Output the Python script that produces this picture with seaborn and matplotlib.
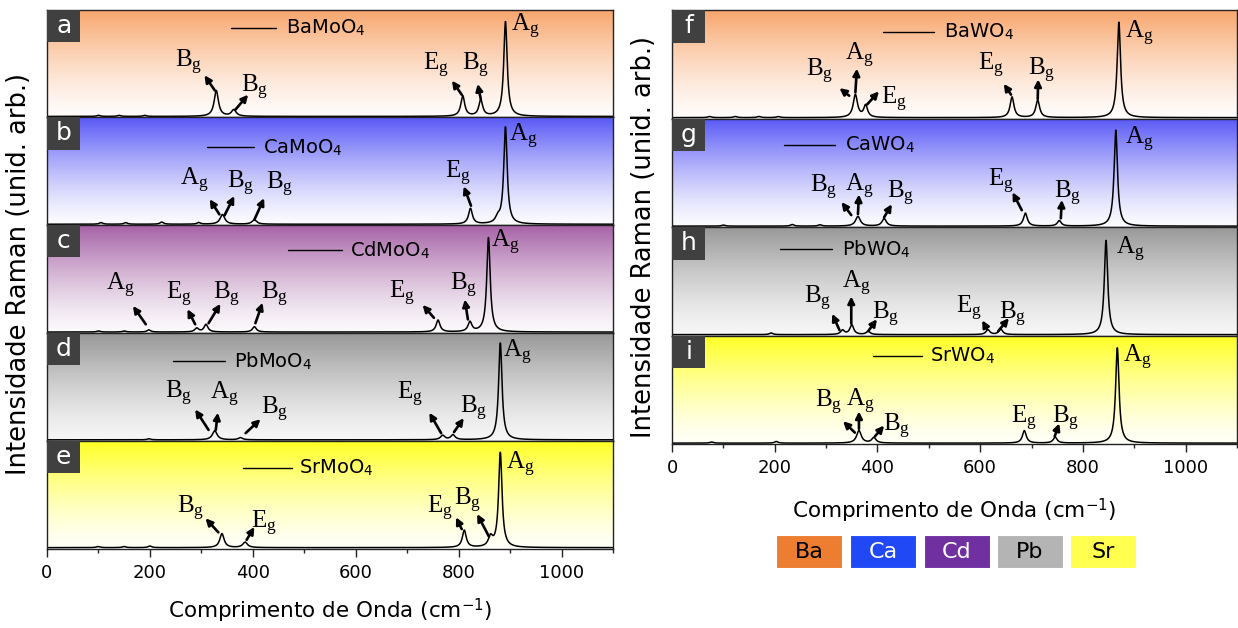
import numpy as np
import pandas as pd
import matplotlib
matplotlib.use("Agg")
import matplotlib.pyplot as plt
import seaborn as sns
from matplotlib.colors import LinearSegmentedColormap
from matplotlib.patches import Rectangle
from matplotlib.ticker import MultipleLocator

sns.set_theme(style="white")
plt.rcParams["font.family"] = ["DejaVu Sans"]
plt.rcParams["text.color"] = "black"
plt.rcParams["axes.labelcolor"] = "black"
plt.rcParams["xtick.color"] = "black"
plt.rcParams["mathtext.fontset"] = "custom"
plt.rcParams["mathtext.rm"] = "Liberation Serif"
plt.rcParams["mathtext.it"] = "Liberation Serif:italic"
plt.rcParams["mathtext.bf"] = "Liberation Serif:bold"
plt.rcParams["mathtext.sf"] = "DejaVu Sans"

# ---------------------------------------------------------------- data
# Raman bands: (centre in cm-1, normalised height, half width in cm-1)
BAMOO4_PEAKS = [(891, 0.88, 4), (843, 0.15, 4.5), (808, 0.19, 4.5), (363, 0.06, 5.5),
                (329, 0.24, 5), (190, 0.01, 4), (140, 0.01, 4), (100, 0.01, 4)]
CAMOO4_PEAKS = [(891, 0.90, 4), (876, 0.05, 5), (823, 0.145, 4.5), (403, 0.04, 5.5),
                (341, 0.09, 5.5), (295, 0.015, 4), (223, 0.02, 4), (153, 0.015, 4),
                (105, 0.015, 4)]
CDMOO4_PEAKS = [(858, 0.875, 4), (822, 0.09, 4.5), (760, 0.11, 4.5), (403, 0.05, 4.5),
                (309, 0.07, 4.5), (291, 0.035, 4.5), (198, 0.02, 4), (150, 0.01, 4),
                (100, 0.01, 4)]
PBMOO4_PEAKS = [(881, 0.90, 4), (789, 0.045, 5), (769, 0.04, 5), (376, 0.02, 5),
                (326, 0.085, 5.5), (198, 0.01, 4)]
SRMOO4_PEAKS = [(881, 0.88, 4), (862, 0.09, 5), (811, 0.16, 4.5), (385, 0.05, 5.5),
                (340, 0.13, 5), (200, 0.015, 4), (150, 0.01, 4), (99, 0.01, 4)]
BAWO4_PEAKS = [(870, 0.88, 4), (712, 0.16, 4.5), (662, 0.19, 4.5), (377, 0.11, 4.5),
               (357, 0.21, 5), (207, 0.01, 4), (169, 0.01, 4), (123, 0.01, 4),
               (73, 0.01, 4)]
CAWO4_PEAKS = [(864, 0.885, 4), (754, 0.05, 4.5), (688, 0.12, 4.5), (413, 0.07, 5),
               (362, 0.09, 5.5), (288, 0.012, 4), (234, 0.015, 4), (100, 0.01, 4)]
PBWO4_PEAKS = [(845, 0.87, 4), (640, 0.05, 4.5), (615, 0.045, 4.5), (382, 0.03, 4.5),
               (350, 0.09, 4.5), (332, 0.04, 4.5), (193, 0.015, 4)]
SRWO4_PEAKS = [(867, 0.88, 4), (746, 0.055, 4.5), (686, 0.115, 4.5), (393, 0.05, 5),
               (364, 0.115, 5.5), (203, 0.015, 4), (77, 0.01, 4)]

SAMPLES_MO = ["BaMoO$_\\mathsf{4}$", "CaMoO$_\\mathsf{4}$", "CdMoO$_\\mathsf{4}$",
              "PbMoO$_\\mathsf{4}$", "SrMoO$_\\mathsf{4}$"]
SAMPLES_W = ["BaWO$_\\mathsf{4}$", "CaWO$_\\mathsf{4}$", "PbWO$_\\mathsf{4}$",
             "SrWO$_\\mathsf{4}$"]
PANEL_LETTERS_MO = ["a", "b", "c", "d", "e"]
PANEL_LETTERS_W = ["f", "g", "h", "i"]
CATIONS = ["Ba", "Ca", "Cd", "Pb", "Sr"]
X_TICKS = [0, 200, 400, 600, 800, 1000]

# ---------------------------------------------------------------- styling
CATION_COLORS = {"Ba": "#ED7D31", "Ca": "#2148F5", "Cd": "#7030A0",
                 "Pb": "#B4B4B4", "Sr": "#FFFF4F"}
CATION_TEXT = {"Ba": "black", "Ca": "white", "Cd": "white", "Pb": "black", "Sr": "black"}
GRADIENT = {"Ba": ("#FFFCFA", "#F8A56B"), "Ca": ("#FBFBFF", "#5858F7"),
            "Cd": ("#FBF9FB", "#A662A6"), "Pb": ("#F6F6F6", "#979797"),
            "Sr": ("#FFFFF8", "#FFFF22")}

# mode labels: (symbol, text x, text y, arrow tail, arrow head)
LABELS_BAMOO4 = [("B", 275, 0.51, (326, 0.25), (306, 0.39)),
                 ("B", 403, 0.28, (366, 0.07), (391, 0.21)),
                 ("E", 756, 0.48, (806, 0.21), (787, 0.34)),
                 ("B", 833, 0.48, (843, 0.17), (837, 0.31)),
                 ("A", 930, 0.84, None, None)]
LABELS_CAMOO4 = [("A", 287, 0.41, (335, 0.10), (316, 0.24)),
                 ("B", 376, 0.39, (345, 0.09), (364, 0.27)),
                 ("B", 453, 0.38, (403, 0.05), (422, 0.25)),
                 ("E", 798, 0.48, (824, 0.18), (810, 0.36)),
                 ("A", 926, 0.82, None, None)]
LABELS_CDMOO4 = [("A", 143, 0.44, (192, 0.08), (167, 0.25)),
                 ("E", 256, 0.36, (288, 0.08), (273, 0.22)),
                 ("B", 349, 0.36, (314, 0.09), (337, 0.27)),
                 ("B", 442, 0.36, (405, 0.09), (419, 0.28)),
                 ("E", 690, 0.37, (752, 0.14), (730, 0.26)),
                 ("B", 810, 0.44, (818, 0.125), (812, 0.31)),
                 ("A", 891, 0.84, None, None)]
LABELS_PBMOO4 = [("B", 256, 0.44, (314, 0.10), (288, 0.29)),
                 ("A", 345, 0.43, (328, 0.10), (332, 0.26)),
                 ("B", 442, 0.29, (386, 0.07), (415, 0.20)),
                 ("E", 705, 0.43, (766, 0.07), (743, 0.26)),
                 ("B", 829, 0.30, (791, 0.08), (810, 0.21)),
                 ("A", 915, 0.82, None, None)]
LABELS_SRMOO4 = [("B", 279, 0.37, (333, 0.15), (308, 0.28)),
                 ("E", 422, 0.23, (388, 0.08), (403, 0.20)),
                 ("E", 764, 0.37, (806, 0.18), (795, 0.29)),
                 ("B", 818, 0.45, (859, 0.11), (836, 0.32)),
                 ("A", 919, 0.78, None, None)]
LABELS_BAWO4 = [("B", 288, 0.43, (345, 0.21), (326, 0.28)),
                ("A", 364, 0.58, (357, 0.24), (360, 0.46)),
                ("E", 433, 0.18, (380, 0.13), (403, 0.25)),
                ("E", 621, 0.49, (660, 0.22), (646, 0.32)),
                ("B", 719, 0.44, (712, 0.18), (713, 0.36)),
                ("A", 909, 0.78, None, None)]
LABELS_CAWO4 = [("B", 295, 0.36, (349, 0.11), (330, 0.23)),
                ("A", 364, 0.37, (362, 0.12), (364, 0.30)),
                ("B", 446, 0.31, (413, 0.09), (428, 0.21)),
                ("E", 640, 0.42, (681, 0.155), (663, 0.32)),
                ("B", 771, 0.31, (757, 0.08), (759, 0.25)),
                ("A", 909, 0.81, None, None)]
LABELS_PBWO4 = [("B", 283, 0.34, (326, 0.05), (312, 0.20)),
                ("A", 359, 0.48, (349, 0.11), (349, 0.36)),
                ("B", 415, 0.19, (382, 0.04), (399, 0.15)),
                ("E", 579, 0.25, (613, 0.06), (604, 0.14)),
                ("B", 663, 0.19, (635, 0.04), (656, 0.16)),
                ("A", 893, 0.79, None, None)]
LABELS_SRWO4 = [("B", 304, 0.38, (356, 0.105), (333, 0.21)),
                ("A", 366, 0.39, (364, 0.14), (364, 0.30)),
                ("B", 437, 0.16, (395, 0.07), (413, 0.17)),
                ("E", 686, 0.24, None, None),
                ("B", 767, 0.24, (745, 0.07), (754, 0.19)),
                ("A", 905, 0.80, None, None)]

# in-panel key: (line start, line end, height, text start)
KEYS_MO = [(357, 446, 0.83, 465), (310, 403, 0.72, 419), (469, 574, 0.77, 589),
           (244, 345, 0.74, 364), (380, 477, 0.75, 490)]
KEYS_W = [(410, 510, 0.80, 529), (219, 318, 0.76, 337), (210, 311, 0.80, 330),
          (391, 487, 0.81, 502)]

W, H = 1238, 628
fig = plt.figure(figsize=(W / 100, H / 100), dpi=100)
grid = np.linspace(0, 1100, 2751)


def px_axes(x0, y0, x1, y1):
    return fig.add_axes([x0 / W, 1 - y1 / H, (x1 - x0) / W, (y1 - y0) / H])


def spectrum(peaks):
    y = np.full_like(grid, 0.008)
    for c, h, g in peaks:
        y += h * g ** 2 / ((grid - c) ** 2 + g ** 2)
    return y


def draw_panel(ax, peaks, cation, letter, sample, key, labels, bottom):
    lo, hi = GRADIENT[cation]
    cmap = LinearSegmentedColormap.from_list(cation, [lo, hi])
    ramp = np.linspace(1, 0, 256) ** 1.35
    ax.imshow(ramp.reshape(-1, 1), cmap=cmap, aspect="auto", vmin=0, vmax=1,
              extent=[0, 1100, 0, 1], origin="upper", zorder=0)
    df = pd.DataFrame({"x": grid, "y": spectrum(peaks)})
    sns.lineplot(data=df, x="x", y="y", ax=ax, color="black", lw=1.1, zorder=2)
    ax.set_xlim(0, 1100)
    ax.set_ylim(0, 1)
    ax.set_xlabel("")
    ax.set_ylabel("")
    ax.set_yticks([])
    for s in ax.spines.values():
        s.set_color("#222222")
        s.set_linewidth(1.0)
    ax.add_patch(Rectangle((0, 0.70), 0.059, 0.30, transform=ax.transAxes,
                           facecolor="#404040", edgecolor="none", zorder=3))
    ax.text(0.0295, 0.85, letter, transform=ax.transAxes, ha="center", va="center",
            color="white", fontsize=18, zorder=4)
    x0, x1, ky, tx = key
    ax.plot([x0, x1], [ky, ky], color="black", lw=1.0)
    ax.text(tx, ky, sample, ha="left", va="center", fontsize=14)
    for sym, tx, ty, tail, head in labels:
        ax.text(tx, ty, r"$\mathrm{%s_g}$" % sym, ha="center", va="center", fontsize=18)
        if tail is not None:
            ax.annotate("", xy=head, xytext=tail,
                        arrowprops=dict(arrowstyle="-|>", color="black", lw=1.9,
                                        mutation_scale=10, shrinkA=0, shrinkB=0))
    ax.xaxis.set_major_locator(MultipleLocator(200))
    ax.xaxis.set_minor_locator(MultipleLocator(100))
    if bottom:
        ax.set_xticks(X_TICKS)
        ax.tick_params(axis="x", which="major", bottom=True, direction="out",
                       length=6, width=1, labelsize=13, pad=5, color="#222222")
        ax.tick_params(axis="x", which="minor", bottom=True, direction="out",
                       length=3, width=1, color="#222222")
    else:
        ax.tick_params(axis="x", which="both", bottom=False, labelbottom=False)


mo_peaks = [BAMOO4_PEAKS, CAMOO4_PEAKS, CDMOO4_PEAKS, PBMOO4_PEAKS, SRMOO4_PEAKS]
mo_labels = [LABELS_BAMOO4, LABELS_CAMOO4, LABELS_CDMOO4, LABELS_PBMOO4, LABELS_SRMOO4]
mo_cations = ["Ba", "Ca", "Cd", "Pb", "Sr"]
top, bot = 9.5, 548.5
step = (bot - top) / 5
for i in range(5):
    ax = px_axes(47, top + i * step, 613, top + (i + 1) * step)
    draw_panel(ax, mo_peaks[i], mo_cations[i], PANEL_LETTERS_MO[i], SAMPLES_MO[i],
               KEYS_MO[i], mo_labels[i], i == 4)

w_peaks = [BAWO4_PEAKS, CAWO4_PEAKS, PBWO4_PEAKS, SRWO4_PEAKS]
w_labels = [LABELS_BAWO4, LABELS_CAWO4, LABELS_PBWO4, LABELS_SRWO4]
w_cations = ["Ba", "Ca", "Pb", "Sr"]
top, bot = 10, 444
step = (bot - top) / 4
for i in range(4):
    ax = px_axes(672, top + i * step, 1237, top + (i + 1) * step)
    draw_panel(ax, w_peaks[i], w_cations[i], PANEL_LETTERS_W[i], SAMPLES_W[i],
               KEYS_W[i], w_labels[i], i == 3)

ylab = "Intensidade Raman (unid. arb.)"
xlab = "Comprimento de Onda (cm$^{\\mathsf{-1}}$)"
fig.text(19 / W, 1 - 274 / H, ylab, rotation=90, ha="center", va="center", fontsize=18.5)
fig.text(644 / W, 1 - 237 / H, ylab, rotation=90, ha="center", va="center", fontsize=18.5)
fig.text(330 / W, 1 - 610 / H, xlab, ha="center", va="center", fontsize=15.5)
fig.text(954 / W, 1 - 510 / H, xlab, ha="center", va="center", fontsize=15.5)

# cation colour key
box_x = [776, 850, 924, 997, 1070]
for name, bx in zip(CATIONS, box_x):
    fig.patches.append(Rectangle((bx / W, 1 - 568 / H), 66 / W, 33 / H,
                                 transform=fig.transFigure, facecolor=CATION_COLORS[name],
                                 edgecolor="white", lw=0.8))
    fig.text((bx + 33) / W, 1 - 551.5 / H, name, ha="center", va="center",
             fontsize=16, color=CATION_TEXT[name])

fig.savefig("out.png", dpi=100)
